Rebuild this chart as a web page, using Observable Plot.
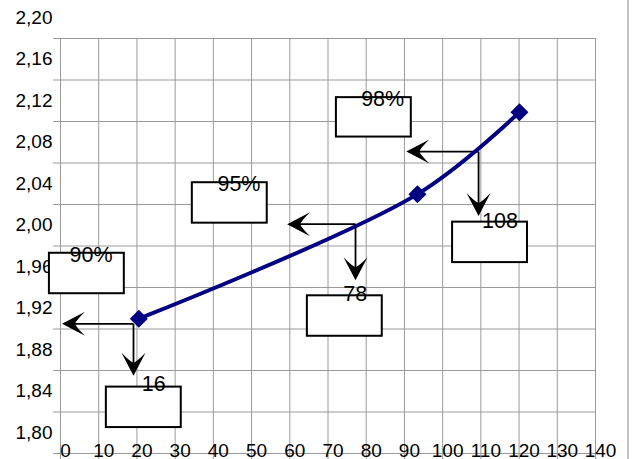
<!DOCTYPE html>
<html>
<head>
<meta charset="utf-8">
<script src="https://cdn.jsdelivr.net/npm/d3@7"></script>
<script src="https://cdn.jsdelivr.net/npm/@observablehq/plot@0.6"></script>
<style>
  html, body { margin: 0; padding: 0; background: #fff; }
  #wrap { position: relative; width: 635px; height: 459px; overflow: hidden; }
  #edge { position: absolute; left: 627px; top: 0; width: 2px; height: 459px; background: #c4c4c4; }
</style>
</head>
<body>
<div id="wrap"><div id="edge"></div></div>
<script>
// Axis tick values
const xTicks = [0, 10, 20, 30, 40, 50, 60, 70, 80, 90, 100, 110, 120, 130, 140];
const yTicks = [1.80, 1.84, 1.88, 1.92, 1.96, 2.00, 2.04, 2.08, 2.12, 2.16, 2.20];

// Main series
const seriesX = [20.5, 93.4, 120.1];
const seriesY = [1.930, 2.050, 2.129];

// Reading arrows: corner on the curve, left tip and lower tip
const arrowX = [19.1, 77.2, 109.4];
const arrowY = [1.925, 2.021, 2.091];
const arrowLeftX = [0.4, 59.3, 90.5];
const arrowDownY = [1.875, 1.967, 2.029];

// Annotation boxes and their labels
const labels = ["90%", "16", "95%", "78", "98%", "108"];
const labelX = [8.0, 24.4, 46.7, 77.1, 84.3, 115.0];
const labelY = [1.9916, 1.8672, 2.0600, 1.9534, 2.1415, 2.0236];
const boxX1 = [-2.9, 12.0, 34.5, 64.6, 72.2, 102.6];
const boxX2 = [16.7, 31.6, 54.1, 84.2, 91.8, 122.2];
const boxTop = [1.993, 1.864, 2.061, 1.952, 2.143, 2.023];
const boxBottom = [1.954, 1.825, 2.022, 1.913, 2.105, 1.984];

const series = seriesX.map((x, i) => ({x, y: seriesY[i]}));
const arrows = arrowX.map((x, i) => ({x, y: arrowY[i], lx: arrowLeftX[i], dy: arrowDownY[i]}));
const boxes = labels.map((t, i) => ({t, tx: labelX[i], ty: labelY[i], x1: boxX1[i], x2: boxX2[i], y1: boxBottom[i], y2: boxTop[i]}));

// filled "stealth" arrowhead, tip at origin pointing up
const stealth = {
  draw(ctx) {
    const L = 23, W = 12, n = 13;
    ctx.moveTo(0, 0);
    ctx.lineTo(W, L);
    ctx.quadraticCurveTo(W * 0.3, n * 1.1, 0, n);
    ctx.quadraticCurveTo(-W * 0.3, n * 1.1, -W, L);
    ctx.closePath();
  }
};

// square turned 45° -> diamond
const diamond = {
  draw(ctx) {
    const h = 9;
    ctx.moveTo(0, -h);
    ctx.lineTo(h, 0);
    ctx.lineTo(0, h);
    ctx.lineTo(-h, 0);
    ctx.closePath();
  }
};

const fmt = d => d.toFixed(2).replace(".", ",");
const grid = "#9a9a9a";

const chart = Plot.plot({
  width: 635,
  height: 459,
  marginLeft: 60,
  marginRight: 40,
  marginTop: 38,
  marginBottom: 6,
  x: {domain: [0, 140]},
  y: {domain: [1.80, 2.20]},
  style: {fontFamily: "'Liberation Sans', Arial, sans-serif", fontSize: "19px", color: "#000", background: "#fff", overflow: "visible"},
  marks: [
    Plot.ruleY(yTicks, {stroke: grid, strokeWidth: 1, insetLeft: -7}),
    Plot.ruleX(xTicks, {stroke: grid, strokeWidth: 1, insetBottom: -6}),
    Plot.axisY(yTicks, {tickSize: 0, tickPadding: 8, dy: -21, tickFormat: fmt, fontSize: 19}),
    Plot.axisX(xTicks, {tickSize: 0, tickPadding: 0, lineAnchor: "middle", dy: -3, dx: 5, fontSize: 19}),
    // arrow shafts
    Plot.link(arrows, {x1: "x", y1: "y", x2: d => d.lx + 3, y2: "y", stroke: "#000", strokeWidth: 1.8}),
    Plot.link(arrows, {x1: "x", y1: "y", x2: "x", y2: d => d.dy + 0.006, stroke: "#000", strokeWidth: 1.8}),
    // arrowheads
    Plot.dot(arrows, {x: "lx", y: "y", symbol: stealth, r: 6, rotate: -90, fill: "#000", stroke: "none"}),
    Plot.dot(arrows, {x: "x", y: "dy", symbol: stealth, r: 6, rotate: 180, fill: "#000", stroke: "none"}),
    // series
    Plot.line(series, {x: "x", y: "y", stroke: "#000080", strokeWidth: 4, curve: "catmull-rom"}),
    Plot.dot(series, {x: "x", y: "y", symbol: diamond, r: 9, fill: "#000080", stroke: "none"}),
    // annotation boxes
    Plot.rect(boxes, {x1: "x1", x2: "x2", y1: "y1", y2: "y2", fill: "#fff", stroke: "#000", strokeWidth: 2}),
    Plot.text(boxes, {x: "tx", y: "ty", text: "t", fontSize: 21.5, fill: "#000", textAnchor: "middle", lineAnchor: "middle"})
  ]
});
document.getElementById("wrap").prepend(chart);
</script>
</body>
</html>
